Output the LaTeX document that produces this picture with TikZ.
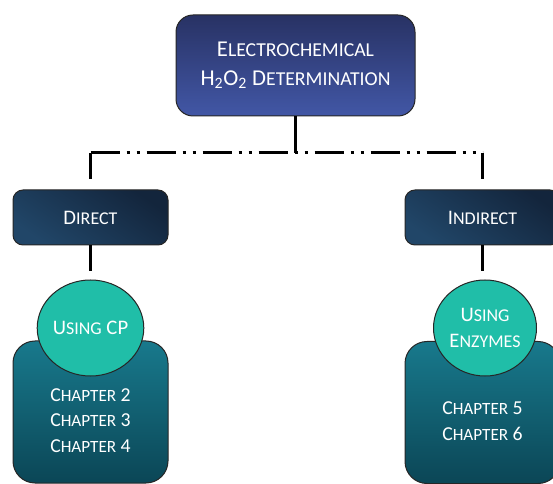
\documentclass[tikz,border=0pt]{standalone}
\usepackage{fontspec}
\setmainfont{Carlito}
\usetikzlibrary{shapes.geometric}
\makeatletter
\newcommand\lowcaps[1]{{\fontsize{\strip@pt\dimexpr\f@size pt*87/100\relax}{\f@baselineskip}\selectfont #1}}
\makeatother

\definecolor{headtop}{RGB}{40,50,100}
\definecolor{headbot}{RGB}{66,87,166}
\definecolor{branchdark}{RGB}{19,37,60}
\definecolor{branchlight}{RGB}{33,70,104}
\definecolor{chaptop}{RGB}{24,121,140}
\definecolor{chapbot}{RGB}{11,70,86}
\definecolor{methodfill}{RGB}{32,190,168}

\tikzset{
  wire/.style={line width=2.25pt, black},
  dashdotdot/.style={dash pattern=on 22pt off 5pt on 2.5pt off 5pt on 2.5pt off 5pt},
  headbox/.style={draw=black!85, line width=0.75pt, rounded corners=12.75pt,
    top color=headtop, bottom color=headbot, text=white, align=center,
    minimum width=179.25pt, minimum height=75.75pt,
    font=\fontsize{17}{21.75}\selectfont},
  branchbox/.style={draw=black!85, line width=0.75pt, rounded corners=7.5pt,
    top color=branchdark, bottom color=branchlight, shading angle=-35, text=white,
    minimum width=116.25pt, minimum height=41.25pt,
    font=\fontsize{15.5}{18}\selectfont},
  chapbox/.style={draw=black!85, line width=0.75pt, rounded corners=16.5pt,
    top color=chaptop, bottom color=chapbot,
    minimum width=116.25pt, minimum height=106.5pt},
  chaptxt/.style={text=white, align=center, font=\fontsize{14.8}{19.3}\selectfont},
  method/.style={ellipse, draw=black!85, line width=0.75pt, fill=methodfill,
    text=white, align=center, inner sep=0pt,
    minimum width=77.25pt, minimum height=72pt,
    font=\fontsize{15.5}{20}\selectfont}
}

\begin{document}
\begin{tikzpicture}[x=0.75pt,y=0.75pt,yscale=-1,xscale=1]
\useasboundingbox (0,0) rectangle (553,484);

% top box
\node[headbox] (top) at (295.5,65.5) {E\lowcaps{LECTROCHEMICAL}\\H\textsubscript{2}O\textsubscript{2} D\lowcaps{ETERMINATION}};

% two branches
\node[branchbox] (dir) at (90.5,217.5) {D\lowcaps{IRECT}};
\node[branchbox] (ind) at (482.5,217.5) {I\lowcaps{NDIRECT}};

% chapter boxes
\node[chapbox] (chL) at (90.5,412) {};
\node[chapbox] (chR) at (482.5,412.5) {};
\node[chaptxt] (chLtxt) at (90.5,420.5) {C\lowcaps{HAPTER} 2\\C\lowcaps{HAPTER} 3\\C\lowcaps{HAPTER} 4};
\node[chaptxt] (chRtxt) at (482.5,421) {C\lowcaps{HAPTER} 5\\C\lowcaps{HAPTER} 6};

% methods
\node[method] (cp) at (90.5,328) {U\lowcaps{SING} CP};
\node[method] (enz) at (485,328) {U\lowcaps{SING}\\E\lowcaps{NZYMES}};

% connectors
\coordinate (busL) at (90.5,153);
\coordinate (busR) at (482.5,153);
\draw[wire] (top.south) -- (top.south |- busL);
\draw[wire, dashdotdot] (busL) -- (busR);
\draw[wire, shorten >=7.5pt] (busL) -- (dir.north);
\draw[wire, shorten >=7.5pt] (busR) -- (ind.north);
\draw[wire, shorten >=6pt] (dir.south) -- (cp.north);
\draw[wire, shorten >=6pt] (ind.south) -- (ind.south |- enz.north);

\end{tikzpicture}
\end{document}
